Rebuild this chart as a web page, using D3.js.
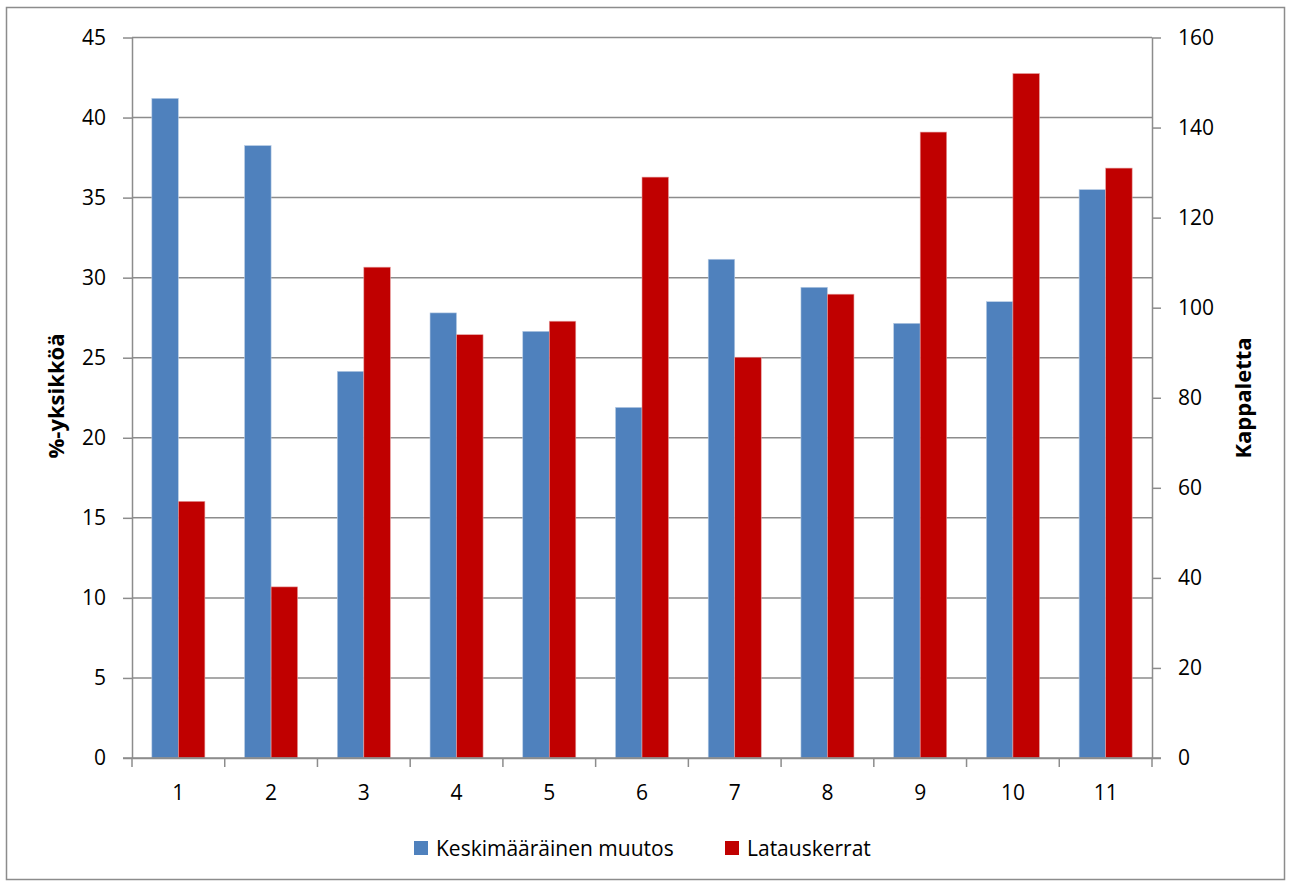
<!DOCTYPE html>
<html><head><meta charset="utf-8">
<script src="https://cdn.jsdelivr.net/npm/d3@7"></script>
<style>body{margin:0;background:#fff;} text{font-family:"Open Sans","Noto Sans",sans-serif;fill:#000;}</style>
</head><body>
<svg id="c" width="1290" height="886"></svg>
<script>
const categories = ["1","2","3","4","5","6","7","8","9","10","11"];
const seriesNames = ["Keskimääräinen muutos","Latauskerrat"];
const muutos = [41.2, 38.25, 24.15, 27.8, 26.65, 21.9, 31.15, 29.4, 27.15, 28.5, 35.5];
const latauskerrat = [57, 38, 109, 94, 97, 129, 89, 103, 139, 152, 131];
const leftTicks = [0,5,10,15,20,25,30,35,40,45];
const rightTicks = [0,20,40,60,80,100,120,140,160];
const leftTitle = "%-yksikköä";
const rightTitle = "Kappaletta";
const colors = ["#4F81BD","#C00000"];

const svg = d3.select("#c");
const L = 132, R = 1152, T = 37.5, B = 758;
const grid = "#8c8c8c";
const fs = 21;

svg.append("rect").attr("x",6.5).attr("y",7.5).attr("width",1278).attr("height",872)
  .attr("fill","none").attr("stroke",grid).attr("stroke-width",1.5);

const x = d3.scaleBand().domain(categories).range([L,R]).paddingInner(0).paddingOuter(0);
const yL = d3.scaleLinear().domain([0,45]).range([B,T]);
const yR = d3.scaleLinear().domain([0,160]).range([B,T]);

// gridlines
svg.append("g").selectAll("line").data(leftTicks.filter(d=>d>0)).join("line")
  .attr("x1",L).attr("x2",R).attr("y1",d=>yL(d)).attr("y2",d=>yL(d))
  .attr("stroke",grid).attr("stroke-width",1.5);

const bw = x.bandwidth()*0.286;
const off = (x.bandwidth()-2*bw)/2;
const g = svg.append("g");
g.selectAll("rect.b").data(muutos).join("rect").attr("class","b")
  .attr("x",(d,i)=>x(categories[i])+off).attr("width",bw)
  .attr("y",d=>yL(d)).attr("height",d=>B-yL(d)).attr("fill",colors[0])
  .attr("stroke","#b9cde5").attr("stroke-width",0.6);
g.selectAll("rect.r").data(latauskerrat).join("rect").attr("class","r")
  .attr("x",(d,i)=>x(categories[i])+off+bw).attr("width",bw)
  .attr("y",d=>yR(d)).attr("height",d=>B-yR(d)).attr("fill",colors[1])
  .attr("stroke","#e6a0a0").attr("stroke-width",0.6);

// left axis
const la = svg.append("g").attr("transform",`translate(${L},0)`)
  .call(d3.axisLeft(yL).tickValues(leftTicks).tickSize(9).tickPadding(17).tickSizeOuter(0));
// right axis
const ra = svg.append("g").attr("transform",`translate(${R},0)`)
  .call(d3.axisRight(yR).tickValues(rightTicks).tickSize(9).tickPadding(17).tickSizeOuter(0));
// bottom axis
const xa = svg.append("g").attr("transform",`translate(0,${B})`)
  .call(d3.axisBottom(x).tickSize(0).tickPadding(27).tickSizeOuter(0));
// boundary ticks
svg.append("g").selectAll("line").data(d3.range(categories.length+1)).join("line")
  .attr("x1",i=>L+i*x.step()).attr("x2",i=>L+i*x.step()).attr("y1",B).attr("y2",B+9)
  .attr("stroke",grid).attr("stroke-width",1.5);

[la,ra,xa].forEach(a=>{
  a.selectAll("path").attr("stroke",grid).attr("stroke-width",1.5);
  a.selectAll("line").attr("stroke",grid).attr("stroke-width",1.5);
  a.selectAll("text").attr("font-size",fs).attr("font-family","'Open Sans','Noto Sans',sans-serif").attr("fill","#000");
});
svg.append("line").attr("x1",L-9).attr("x2",R+9).attr("y1",B).attr("y2",B).attr("stroke",grid).attr("stroke-width",1.5);

svg.append("text").attr("transform","translate(55,396) rotate(-90)").attr("text-anchor","middle")
  .attr("dominant-baseline","central").attr("font-weight","bold").attr("font-size",22).text(leftTitle);
svg.append("text").attr("transform","translate(1242,398) rotate(-90)").attr("text-anchor","middle")
  .attr("dominant-baseline","central").attr("font-weight","bold").attr("font-size",22).text(rightTitle);

// legend
const leg = svg.append("g");
const lx = [414, 725];
seriesNames.forEach((n,i)=>{
  leg.append("rect").attr("x",lx[i]).attr("y",841).attr("width",14).attr("height",14).attr("fill",colors[i]);
  leg.append("text").attr("x",lx[i]+22).attr("y",856).attr("font-size",fs).text(n);
});
</script>
</body></html>
